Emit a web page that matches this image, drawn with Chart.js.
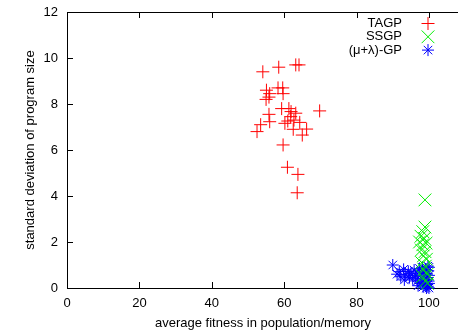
<!DOCTYPE html>
<html>
<head>
<meta charset="utf-8">
<script src="https://cdn.jsdelivr.net/npm/chart.js@4/dist/chart.umd.min.js"></script>
<style>
html, body { margin: 0; padding: 0; background: #fff; overflow: hidden; }
/* the original plot is cropped at the right edge, so the canvas runs past the window */
#wrap { width: 469px; height: 331px; position: relative; }
</style>
</head>
<body>
<div id="wrap"><canvas id="chart"></canvas></div>
<script>
// tick labels
const xTicks = [0, 20, 40, 60, 80, 100];
const yTicks = [0, 2, 4, 6, 8, 10, 12];
const seriesNames = ['TAGP', 'SSGP', '(μ+λ)-GP'];

// [average fitness, std dev of size]
const tagp = [
    [54.1, 9.4], [58.5, 9.6], [63.2, 9.7], [64.1, 9.7], [55.1, 8.6], [58.3, 8.7],
    [59.6, 8.7], [55.8, 8.3], [55.0, 8.2], [56.0, 8.45], [59.7, 8.45], [59.3, 7.8],
    [61.3, 7.8], [61.9, 7.67], [55.8, 7.55], [61.8, 7.45], [63.2, 7.6], [69.8, 7.7],
    [53.5, 7.1], [56.0, 7.23], [60.2, 7.16], [61.0, 7.26], [62.7, 7.3], [64.3, 7.2],
    [52.5, 6.8], [62.5, 6.9], [65.0, 6.65], [66.2, 6.91], [59.7, 6.22], [60.9, 5.25],
    [63.8, 4.94], [63.6, 4.14]
];
const ssgp = [
    [98.9, 3.83], [98.9, 2.65], [98.3, 2.45], [97.8, 2.25], [98.7, 2.15], [97.4, 2.0],
    [98.3, 1.88], [99.2, 1.95], [97.9, 1.65], [98.9, 1.58], [98.5, 1.4], [99.3, 1.25],
    [98.0, 1.1], [99.0, 0.95], [98.6, 0.8], [99.5, 0.6], [98.2, 0.5], [99.0, 0.3], [99.6, 0.2]
];
const muLambda = [
    [90.0, 1.0], [91.8, 0.71], [92.2, 0.49], [93.0, 0.81], [93.6, 0.57], [94.3, 0.72],
    [95.0, 0.64], [95.9, 0.78], [96.3, 0.55], [96.9, 0.49], [97.4, 0.85], [97.8, 0.64],
    [98.0, 0.4], [98.2, 0.9], [98.5, 0.25], [98.6, 0.7], [98.8, 0.55], [99.0, 0.1],
    [99.1, 0.8], [99.2, 0.35], [99.4, 0.62], [99.5, 0.15], [99.6, 0.45], [99.7, 0.05],
    [99.8, 0.75], [99.9, 0.3], [100, 0.55], [100, 0.2], [100, 0.0], [99.3, 0.0],
    [98.4, 0.05], [97.6, 0.2], [96.8, 0.3], [95.5, 0.4], [94.6, 0.45], [93.2, 0.35],
    [91.2, 0.6], [100, 0.9], [99.7, 0.95], [97.0, 0.1]
];

const FONT = { family: '"Liberation Sans", Arial, Helvetica, sans-serif', size: 13 };

function pts(arr) {
    return arr.map(p => ({ x: p[0], y: p[1] }));
}

// gnuplot style border with inward ticks
const framePlugin = {
    id: 'frame',
    beforeDatasetsDraw(chart) {
        const { ctx, chartArea: a, scales } = chart;
        ctx.save();
        ctx.strokeStyle = '#000';
        ctx.lineWidth = 1;
        ctx.beginPath();
        ctx.moveTo(a.left + 0.5, a.top + 0.5);
        ctx.lineTo(a.right, a.top + 0.5);
        ctx.moveTo(a.left + 0.5, a.top);
        ctx.lineTo(a.left + 0.5, a.bottom + 0.5);
        ctx.lineTo(a.right, a.bottom + 0.5);
        xTicks.forEach(v => {
            const px = Math.round(scales.x.getPixelForValue(v)) + 0.5;
            ctx.moveTo(px, a.bottom);
            ctx.lineTo(px, a.bottom - 6);
            ctx.moveTo(px, a.top);
            ctx.lineTo(px, a.top + 6);
        });
        yTicks.forEach(v => {
            const py = Math.round(scales.y.getPixelForValue(v)) + 0.5;
            ctx.moveTo(a.left, py);
            ctx.lineTo(a.left + 6, py);
        });
        ctx.stroke();
        ctx.restore();
    }
};

// legend: right aligned text with the marker on its right
const legendPlugin = {
    id: 'gpLegend',
    afterDraw(chart) {
        const { ctx, chartArea: a } = chart;
        ctx.save();
        ctx.font = FONT.size + 'px ' + FONT.family;
        ctx.fillStyle = '#000';
        ctx.textAlign = 'right';
        ctx.textBaseline = 'middle';
        chart.data.datasets.forEach((ds, i) => {
            const y = a.top + 11.5 + i * 13.3;
            ctx.fillText(ds.label, a.left + 335, y);
            ctx.strokeStyle = ds.borderColor;
            Chart.helpers.drawPoint(ctx, {
                pointStyle: ds.pointStyle,
                radius: ds.pointRadius,
                rotation: 0,
                borderWidth: 1
            }, a.left + 361, y);
        });
        ctx.restore();
    }
};

new Chart(document.getElementById('chart'), {
    type: 'scatter',
    data: {
        datasets: [{
            label: seriesNames[0],
            data: pts(tagp),
            pointStyle: 'cross',
            pointRadius: 6.5,
            borderColor: '#ff0000',
            backgroundColor: '#ff0000',
            borderWidth: 1,
            clip: false
        }, {
            label: seriesNames[1],
            data: pts(ssgp),
            pointStyle: 'crossRot',
            pointRadius: 9,
            borderColor: '#00ee00',
            backgroundColor: '#00ee00',
            borderWidth: 1,
            clip: false
        }, {
            label: seriesNames[2],
            data: pts(muLambda),
            pointStyle: 'star',
            pointRadius: 6,
            borderColor: '#0000ff',
            backgroundColor: '#0000ff',
            borderWidth: 1,
            clip: false
        }]
    },
    options: {
        responsive: true,
        maintainAspectRatio: false,
        animation: false,
        events: [],
        layout: { padding: { top: 12, right: 0, left: 0, bottom: 0 } },
        plugins: {
            legend: { display: false },
            tooltip: { enabled: false }
        },
        scales: {
            x: {
                type: 'linear',
                min: 0,
                max: 108.3,
                grid: { display: false, drawTicks: false },
                border: { display: false },
                afterBuildTicks: s => { s.ticks = xTicks.map(v => ({ value: v })); },
                afterFit: s => { s.height = 43; },
                ticks: { color: '#000', font: FONT, padding: 8, maxRotation: 0 },
                title: { display: true, text: 'average fitness in population/memory', color: '#000', font: FONT, padding: { top: 3, bottom: 0 } }
            },
            y: {
                type: 'linear',
                min: 0,
                max: 12,
                grid: { display: false, drawTicks: false },
                border: { display: false },
                afterBuildTicks: s => { s.ticks = yTicks.map(v => ({ value: v })); },
                afterFit: s => { s.width = 67; s.paddingTop = 0; s.paddingBottom = 0; },
                ticks: { color: '#000', font: FONT, padding: 9 },
                title: { display: true, text: 'standard deviation of program size', color: '#000', font: FONT, padding: { top: 23, bottom: 0 } }
            }
        }
    },
    plugins: [framePlugin, legendPlugin]
});
</script>
</body>
</html>
